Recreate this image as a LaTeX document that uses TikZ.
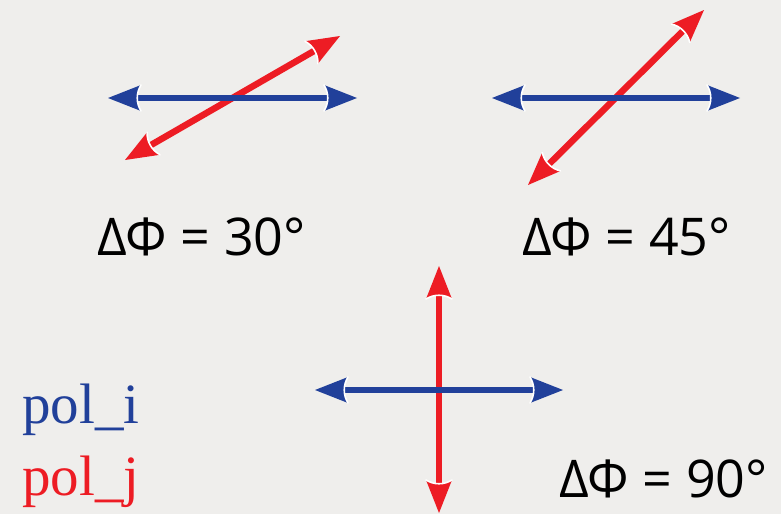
\documentclass[tikz,border=0pt]{standalone}
\usepackage{fontspec}
\setmainfont{Liberation Serif}
\newfontfamily\labfont{Open Sans}
\definecolor{bgc}{RGB}{239,238,236}
\definecolor{polblue}{RGB}{33,64,154}
\definecolor{polred}{RGB}{237,28,36}
\tikzset{
  polhead/.pic={
    \fill[#1] (0,0) -- (-33,13) .. controls (-28,5) and (-28,-5) .. (-33,-13) -- cycle;
    \draw[white, line width=1.6pt, line cap=round] (-33,13) .. controls (-28,5) and (-28,-5) .. (-33,-13);
  },
  shaft/.style={line width=6.5pt, draw=#1, shorten <=26pt, shorten >=26pt},
  headend/.style={pos=1, sloped, allow upside down},
  dphi/.style={font=\labfont\fontsize{52}{60}\selectfont, text=black, anchor=base west, inner sep=0pt},
  pollab/.style={font=\fontsize{57}{64}\selectfont, anchor=base west, inner sep=0pt},
}
\newcommand{\polarrow}[3]{%
  \draw[shaft=#1] (#2) -- (#3);
  \path (#2) -- (#3) pic[headend]{polhead=#1};
  \path (#3) -- (#2) pic[headend]{polhead=#1};
}
\begin{document}
\begin{tikzpicture}[x=1pt,y=-1pt]
  \fill[bgc] (0,0) rectangle (781,514);
  \useasboundingbox (0,0) rectangle (781,514);
  % diagram 1
  \coordinate (r1a) at (125,160); \coordinate (r1b) at (340,36);
  \coordinate (b1a) at (108,98);  \coordinate (b1b) at (357,98);
  \polarrow{polred}{r1a}{r1b}
  \polarrow{polblue}{b1a}{b1b}
  % diagram 2
  \coordinate (r2a) at (528,185); \coordinate (r2b) at (704,10);
  \coordinate (b2a) at (492,98);  \coordinate (b2b) at (740,98);
  \polarrow{polred}{r2a}{r2b}
  \polarrow{polblue}{b2a}{b2b}
  % diagram 3
  \coordinate (r3a) at (439,513); \coordinate (r3b) at (439,266);
  \coordinate (b3a) at (315,390); \coordinate (b3b) at (563,390);
  \polarrow{polred}{r3a}{r3b}
  \polarrow{polblue}{b3a}{b3b}
  % labels
  \node[dphi] (l30) at (97,255) {ΔΦ = 30°};
  \node[dphi] (l45) at (522,255) {ΔΦ = 45°};
  \node[dphi] (l90) at (559,497) {ΔΦ = 90°};
  \node[pollab, text=polblue] (pi) at (22,423) {pol\_i};
  \node[pollab, text=polred] (pj) at (22,495) {pol\_j};
\end{tikzpicture}
\end{document}
